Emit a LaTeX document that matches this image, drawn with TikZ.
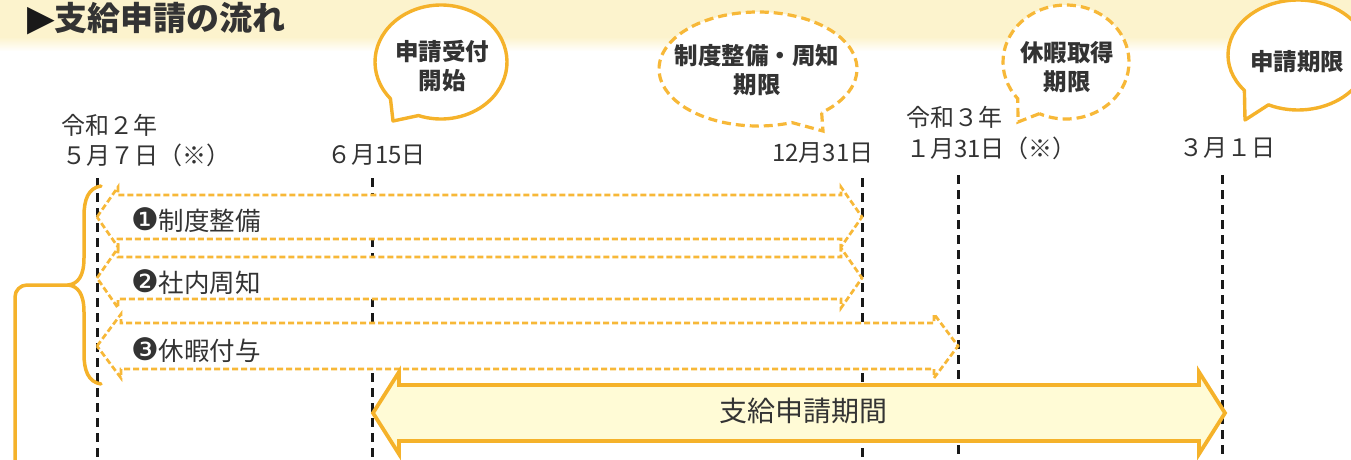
\documentclass[tikz,border=0pt]{standalone}
\usepackage{fontspec}
\setmainfont{Noto Sans CJK JP}
\newfontfamily\dejavu{DejaVu Sans}
\usetikzlibrary{calc}
\definecolor{orng}{HTML}{F5B22A}
\definecolor{dorng}{HTML}{F7B838}
\definecolor{cream}{HTML}{FCF3CD}
\definecolor{arrfill}{HTML}{FFFBD6}
\definecolor{txt}{HTML}{333333}
\newcommand{\darr}[7]{%
  \path[#1] (#2,#4) -- ({#2+#7},{#4-#6}) -- ({#2+#7},{#4-#5}) -- ({#3-#7},{#4-#5})
    -- ({#3-#7},{#4-#6}) -- (#3,#4) -- ({#3-#7},{#4+#6}) -- ({#3-#7},{#4+#5})
    -- ({#2+#7},{#4+#5}) -- ({#2+#7},{#4+#6}) -- cycle;}
\tikzset{
  vline/.style={draw=black!90, line width=3pt, dash pattern=on 9pt off 6pt},
  darrow/.style={draw=dorng, fill=white, line width=2.7pt, dash pattern=on 6pt off 3pt},
  bigarrow/.style={draw=orng, fill=arrfill, line width=3.8pt, line join=miter},
  solidbub/.style={draw=orng, fill=white, line width=3.4pt, line join=round},
  dashbub/.style={draw=dorng, fill=white, line width=3.2pt, dash pattern=on 9pt off 5pt},
  bubtxt/.style={text=txt, font=\fontsize{23.5}{29}\selectfont\bfseries, align=center, inner sep=0pt},
  datetxt/.style={text=txt, font=\fontsize{24}{30}\selectfont, inner sep=0pt, anchor=west},
  lbltxt/.style={text=txt, font=\fontsize{25.5}{28}\selectfont, inner sep=0pt, anchor=west},
  numtxt/.style={font=\dejavu\fontsize{31}{28}\selectfont},
  bracestyle/.style={draw=orng, line width=3.5pt, line cap=round, line join=round},
}
\begin{document}
\begin{tikzpicture}[x=1pt,y=-1pt]
\useasboundingbox (0,0) rectangle (1351,459);
% background band
\fill[cream] (0,0) rectangle (1351,38);
\foreach \i in {0,...,13}{
  \pgfmathtruncatemacro\pc{100-7*\i}
  \fill[cream!\pc!white] (0,{37+\i}) rectangle (1351,{38.3+\i});
}
% title
\node[anchor=west, inner sep=0pt, text=txt] (title) at (27,19)
  {{\dejavu\fontsize{36}{36}\selectfont\color{black!90}▶}{\fontsize{33}{36}\selectfont\bfseries 支給申請の流れ}};

% bubbles
\coordinate (b1c) at (441,62);  \coordinate (b1t) at (393,121);
\coordinate (b2c) at (758,69);  \coordinate (b2t) at (823,131);
\coordinate (b3c) at (1066,62); \coordinate (b3t) at (1018,122);
\coordinate (b4c) at (1298,55); \coordinate (b4t) at (1245,120);
\path[solidbub] ($(b1c)+(110:66 and 57)$) -- (b1t) -- ($(b1c)+(140:66 and 57)$)
  arc[start angle=140, end angle=470, x radius=66, y radius=57] -- cycle;
\path[dashbub] ($(b2c)+(50:99 and 57)$) -- (b2t) -- ($(b2c)+(70:99 and 57)$)
  arc[start angle=70, end angle=410, x radius=99, y radius=57] -- cycle;
\path[dashbub] ($(b3c)+(115:63 and 57)$) -- (b3t) -- ($(b3c)+(140:63 and 57)$)
  arc[start angle=140, end angle=475, x radius=63, y radius=57] -- cycle;
\path[solidbub] ($(b4c)+(115:70 and 55)$) -- (b4t) -- ($(b4c)+(140:70 and 55)$)
  arc[start angle=140, end angle=475, x radius=70, y radius=55] -- cycle;
\node[bubtxt] (t1) at (442,66) {申請受付\\開始};
\node[bubtxt] (t2) at (757,70) {制度整備・周知\\期限};
\node[bubtxt] (t3) at (1067,67) {休暇取得\\期限};
\node[bubtxt] (t4) at (1297,62) {申請期限};

% dates
\node[datetxt] (d1a) at (61,125) {令和２年};
\node[datetxt] (d1b) at (62,155) {５月７日（※）};
\node[datetxt] (d2) at (327,155) {６月15日};
\node[datetxt] (d3) at (772,153) {12月31日};
\node[datetxt] (d4a) at (906,117) {令和３年};
\node[datetxt] (d4b) at (906,148) {１月31日（※）};
\node[datetxt] (d5) at (1179,148) {３月１日};

% vertical dashed lines
\coordinate (v1t) at (97,178);   \coordinate (v1b) at (97,465);
\coordinate (v2t) at (372,178);  \coordinate (v2b) at (372,465);
\coordinate (v3t) at (862,178);  \coordinate (v3b) at (862,465);
\coordinate (v4t) at (958,175);  \coordinate (v4b) at (958,465);
\coordinate (v5t) at (1222,175); \coordinate (v5b) at (1222,465);
\draw[vline] (v1t) -- (v1b);
\draw[vline] (v2t) -- (v2b);
\draw[vline] (v3t) -- (v3b);
\draw[vline] (v4t) -- (v4b);
\draw[vline] (v5t) -- (v5b);

% dashed double arrows
\darr{darrow}{97}{862}{217}{22}{30}{21}
\darr{darrow}{97}{862}{278}{21}{30}{21}
\darr{darrow}{97}{958}{346}{23}{32}{24}
\node[lbltxt] (l1) at (131,220) {{\fontsize{31}{28}\dejavu ❶}制度整備};
\node[lbltxt] (l2) at (131,282) {{\fontsize{31}{28}\dejavu ❷}社内周知};
\node[lbltxt] (l3) at (131,350) {{\fontsize{31}{28}\dejavu ❸}休暇付与};

% big arrow
\darr{bigarrow}{373}{1225}{413}{28}{41}{26}
\node[text=txt, font=\fontsize{28}{30}\selectfont, inner sep=0pt] (period) at (803,411) {支給申請期間};

% brace and connector
\coordinate (bt) at (101,186);
\coordinate (bc) at (68,285);
\coordinate (bb) at (101,384);
\coordinate (bend) at (15,470);
\draw[bracestyle] (bt) .. controls (88,188) and (84,200) .. (84,216) -- (84,258)
  .. controls (84,276) and (78,284) .. (bc)
  .. controls (78,286) and (84,294) .. (84,312) -- (84,354)
  .. controls (84,370) and (88,382) .. (bb);
\draw[bracestyle, rounded corners=12pt] (bc) -| (bend);
\end{tikzpicture}
\end{document}
